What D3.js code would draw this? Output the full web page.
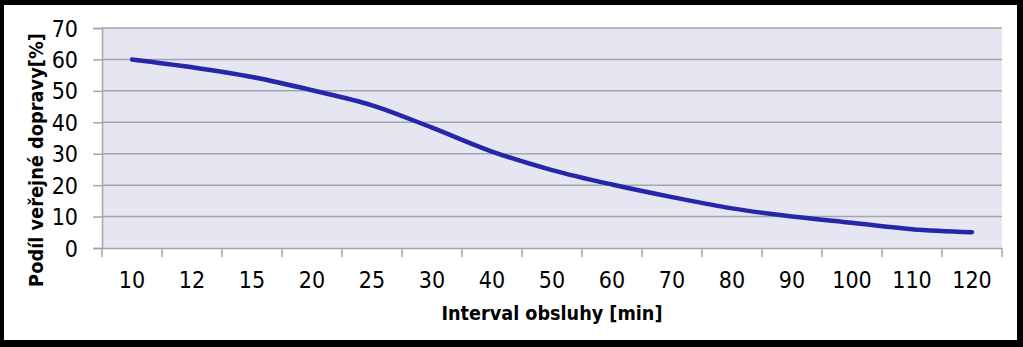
<!DOCTYPE html>
<html>
<head>
<meta charset="utf-8">
<script src="https://cdn.jsdelivr.net/npm/d3@7/dist/d3.min.js"></script>
<style>
  html, body { margin: 0; padding: 0; background: #fff; }
  svg { display: block; }
</style>
</head>
<body>
<svg id="chart" width="1023" height="347"></svg>
<script>
const categories = ["10","12","15","20","25","30","40","50","60","70","80","90","100","110","120"];
const shareValues = [60, 57.5, 54.4, 50.2, 45.4, 38.3, 30.7, 24.8, 20.2, 16.2, 12.6, 10, 8, 6, 5];
const yTicks = [0, 10, 20, 30, 40, 50, 60, 70];
const xTitle = "Interval obsluhy [min]";
const yTitle = "Podíl veřejné dopravy[%]";

const W = 1023, H = 347;
const plot = { left: 102, right: 1002, top: 28, bottom: 248 };
const labelFont = "'DejaVu Sans Condensed', 'Liberation Sans', sans-serif";
const gridColor = "#a4a4ac";

const svg = d3.select("#chart");

// frame
svg.append("rect").attr("x", 0).attr("y", 0).attr("width", W).attr("height", H).attr("fill", "#000");
svg.append("rect").attr("x", 4).attr("y", 5).attr("width", 1013).attr("height", 335).attr("fill", "#fff");

const x = d3.scaleBand().domain(categories).range([plot.left, plot.right]).padding(0);
const y = d3.scaleLinear().domain([0, 70]).range([plot.bottom, plot.top]);

// plot background
svg.append("rect")
  .attr("x", plot.left).attr("y", plot.top)
  .attr("width", plot.right - plot.left).attr("height", plot.bottom - plot.top)
  .attr("fill", "#e6e6f2");

// gridlines
svg.append("g").selectAll("line").data(yTicks.filter(d => d > 0)).join("line")
  .attr("x1", plot.left).attr("x2", plot.right)
  .attr("y1", d => y(d)).attr("y2", d => y(d))
  .attr("stroke", gridColor).attr("stroke-width", 1.5);

// y axis
const yAxis = svg.append("g").attr("transform", `translate(${plot.left},0)`)
  .call(d3.axisLeft(y).tickValues(yTicks).tickSize(9).tickPadding(15).tickFormat(d3.format("d")));
yAxis.select(".domain").attr("stroke", gridColor).attr("stroke-width", 1.5);
yAxis.selectAll(".tick line").attr("stroke", gridColor).attr("stroke-width", 1.5);
yAxis.selectAll(".tick text").attr("font-family", labelFont).attr("font-size", 23).attr("fill", "#000").attr("dy", "0.35em");

// x axis
const xAxis = svg.append("g").attr("transform", `translate(0,${plot.bottom})`)
  .call(d3.axisBottom(x).tickSize(0).tickPadding(24));
xAxis.select(".domain").attr("stroke", gridColor).attr("stroke-width", 1.5);
xAxis.selectAll(".tick text").attr("font-family", labelFont).attr("font-size", 23).attr("fill", "#000").attr("dy", "0.71em");
const edges = categories.map(c => x(c)).concat([x(categories[categories.length - 1]) + x.bandwidth()]);
xAxis.append("g").selectAll("line").data(edges).join("line")
  .attr("x1", d => d).attr("x2", d => d).attr("y1", 0).attr("y2", 9)
  .attr("stroke", gridColor).attr("stroke-width", 1.5);

// line
const line = d3.line()
  .x((d, i) => x(categories[i]) + x.bandwidth() / 2)
  .y(d => y(d))
  .curve(d3.curveCatmullRom.alpha(0));
svg.append("path").datum(shareValues)
  .attr("d", line)
  .attr("fill", "none").attr("stroke", "#2626aa").attr("stroke-width", 4.5)
  .attr("stroke-linecap", "round").attr("stroke-linejoin", "round");

// titles
function fitText(sel, target) {
  const w = sel.node().getComputedTextLength();
  const fs = parseFloat(sel.attr("font-size"));
  sel.attr("font-size", (fs * target / w).toFixed(2));
}
const xt = svg.append("text").attr("x", (plot.left + plot.right) / 2).attr("y", 320)
  .attr("text-anchor", "middle").attr("font-family", labelFont).attr("font-weight", "bold")
  .attr("font-size", 18).attr("fill", "#000").text(xTitle);
fitText(xt, 221);
const yt = svg.append("text").attr("transform", "translate(43,160) rotate(-90)")
  .attr("text-anchor", "middle").attr("font-family", labelFont).attr("font-weight", "bold")
  .attr("font-size", 18).attr("fill", "#000").text(yTitle);
fitText(yt, 254);
</script>
</body>
</html>
